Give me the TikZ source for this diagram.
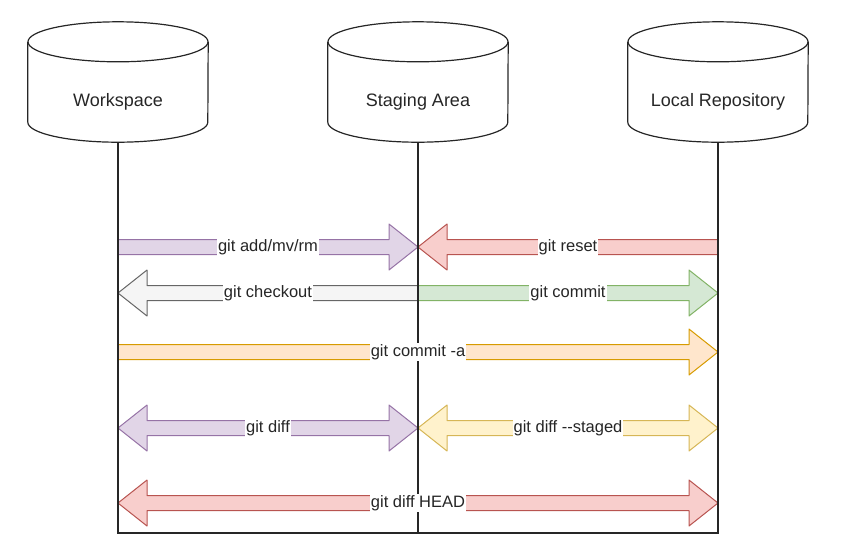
\documentclass[tikz,border=0pt]{standalone}
\usepackage{fontspec}
\setmainfont{Liberation Sans}
\usetikzlibrary{calc}

\definecolor{purplefill}{HTML}{E1D5E7}
\definecolor{purpleline}{HTML}{9673A6}
\definecolor{redfill}{HTML}{F8CECC}
\definecolor{redline}{HTML}{B85450}
\definecolor{greyfill}{HTML}{F5F5F5}
\definecolor{greyline}{HTML}{666666}
\definecolor{greenfill}{HTML}{D5E8D4}
\definecolor{greenline}{HTML}{82B366}
\definecolor{orangefill}{HTML}{FFE6CC}
\definecolor{orangeline}{HTML}{D79B00}
\definecolor{yellowfill}{HTML}{FFF2CC}
\definecolor{yellowline}{HTML}{D6B656}

% sizes of the fat arrows
\newcommand\arrbody{7.5pt}
\newcommand\arrhead{23pt}
\newcommand\arrlen{29pt}

% fat arrow with one head: style, tail, tip
\newcommand\fatarrow[3]{%
  \coordinate (h) at ($(#3)!\arrlen!(#2)$);
  \draw[#1] ($(#2)!\arrbody!90:(#3)$) -- ($(h)!\arrbody!-90:(#2)$)
    -- ($(h)!\arrhead!-90:(#2)$) -- (#3) -- ($(h)!\arrhead!90:(#2)$)
    -- ($(h)!\arrbody!90:(#2)$) -- ($(#2)!\arrbody!-90:(#3)$) -- cycle;
}

% fat arrow with two heads: style, one end, other end
\newcommand\twoarrow[3]{%
  \coordinate (h1) at ($(#2)!\arrlen!(#3)$);
  \coordinate (h2) at ($(#3)!\arrlen!(#2)$);
  \draw[#1] (#2) -- ($(h1)!\arrhead!90:(#3)$) -- ($(h1)!\arrbody!90:(#3)$)
    -- ($(h2)!\arrbody!-90:(#2)$) -- ($(h2)!\arrhead!-90:(#2)$) -- (#3)
    -- ($(h2)!\arrhead!90:(#2)$) -- ($(h2)!\arrbody!90:(#2)$)
    -- ($(h1)!\arrbody!-90:(#3)$) -- ($(h1)!\arrhead!-90:(#3)$) -- cycle;
}

\begin{document}
\begin{tikzpicture}[x=1pt,y=-1pt,
    dbnode/.style={minimum width=180pt, minimum height=80pt, inner sep=0pt,
      font=\fontsize{18}{21}\selectfont, text=black!85},
    life/.style={line width=1.2pt, black!85},
    cmd/.style={fill=white, inner sep=1pt,
      font=\fontsize{16.5}{19}\selectfont, text=black!85},
    fatline/.style={line width=1pt, line join=round},
    purplearrow/.style={fatline, fill=purplefill, draw=purpleline},
    redarrow/.style={fatline, fill=redfill, draw=redline},
    greyarrow/.style={fatline, fill=greyfill, draw=greyline},
    greenarrow/.style={fatline, fill=greenfill, draw=greenline},
    orangearrow/.style={fatline, fill=orangefill, draw=orangeline},
    yellowarrow/.style={fatline, fill=yellowfill, draw=yellowline}]
    \useasboundingbox (0,0) rectangle (853,558);

    % The three stores
    \node[dbnode] (ws) at (118,102) {Workspace};
    \node[dbnode] (sa) at (418,102) {Staging Area};
    \node[dbnode] (lr) at (718,102) {Local Repository};

    % Draw the cylinders round them
    \foreach \n in {ws,sa,lr} {
        \draw[life] ([yshift=20pt]\n.north) ellipse [x radius=90pt, y radius=20pt];
        \draw[life] ([yshift=20pt]\n.north west) -- ([yshift=20pt]\n.south west)
            arc [start angle=180, end angle=360, x radius=90pt, y radius=20pt]
            -- ([yshift=20pt]\n.north east);
    }

    % Points on the lifelines, one per row
    \foreach \r/\y in {1/247, 2/293, 3/352, 4/428, 5/503, end/533} {
        \coordinate (ws\r) at (ws.south |- 0,\y);
        \coordinate (sa\r) at (sa.south |- 0,\y);
        \coordinate (lr\r) at (lr.south |- 0,\y);
    }

    % The arrows
    \fatarrow{purplearrow}{ws1}{sa1}
    \fatarrow{redarrow}{lr1}{sa1}
    \fatarrow{greyarrow}{sa2}{ws2}
    \fatarrow{greenarrow}{sa2}{lr2}
    \fatarrow{orangearrow}{ws3}{lr3}
    \twoarrow{purplearrow}{ws4}{sa4}
    \twoarrow{yellowarrow}{sa4}{lr4}
    \twoarrow{redarrow}{ws5}{lr5}

    % Lifelines
    \draw[life] (ws.south) -- (wsend) -- (lrend) -- (lr.south);
    \draw[life] (sa.south) -- (saend);

    % Commands
    \node[cmd] (add) at ($(ws1)!0.5!(sa1)$) {git add/mv/rm};
    \node[cmd] (reset) at ($(sa1)!0.5!(lr1)$) {git reset};
    \node[cmd] (checkout) at ($(ws2)!0.5!(sa2)$) {git checkout};
    \node[cmd] (commit) at ($(sa2)!0.5!(lr2)$) {git commit};
    \node[cmd] (commita) at ($(ws3)!0.5!(lr3)$) {git commit -a};
    \node[cmd] (diff) at ($(ws4)!0.5!(sa4)$) {git diff};
    \node[cmd] (staged) at ($(sa4)!0.5!(lr4)$) {git diff {-}{-}staged};
    \node[cmd] (head) at ($(ws5)!0.5!(lr5)$) {git diff HEAD};
\end{tikzpicture}
\end{document}
